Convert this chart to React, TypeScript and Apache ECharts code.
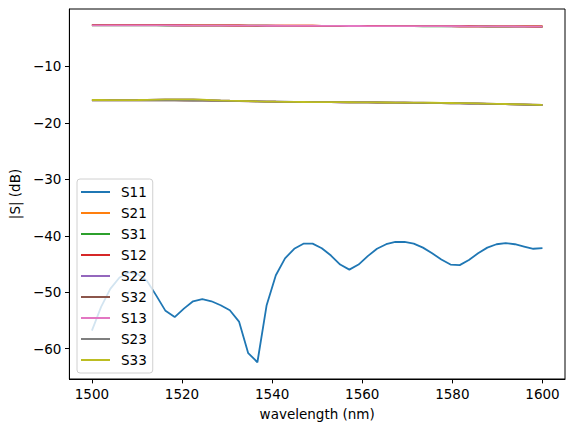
import React, { useEffect, useRef } from "react";
import * as echarts from "echarts";

const wavelengths = [
  1500, 1502.04, 1504.08, 1506.12, 1508.16, 1510.2, 1512.24, 1514.29, 1516.33, 1518.37,
  1520.41, 1522.45, 1524.49, 1526.53, 1528.57, 1530.61, 1532.65, 1534.69, 1536.73, 1538.78,
  1540.82, 1542.86, 1544.9, 1546.94, 1548.98, 1551.02, 1553.06, 1555.1, 1557.14, 1559.18,
  1561.22, 1563.27, 1565.31, 1567.35, 1569.39, 1571.43, 1573.47, 1575.51, 1577.55, 1579.59,
  1581.63, 1583.67, 1585.71, 1587.76, 1589.8, 1591.84, 1593.88, 1595.92, 1597.96, 1600,
];

const s11 = [
  -56.8, -52.6, -49.4, -47.4, -46.5, -46.8, -48.0, -50.6, -53.3, -54.4,
  -52.9, -51.6, -51.2, -51.6, -52.3, -53.2, -55.2, -60.8, -62.4, -52.3,
  -47.0, -44.0, -42.3, -41.4, -41.4, -42.2, -43.5, -45.1, -46.0, -45.1,
  -43.6, -42.3, -41.5, -41.1, -41.1, -41.4, -42.1, -43.1, -44.2, -45.1,
  -45.2, -44.3, -43.1, -42.1, -41.5, -41.3, -41.5, -41.9, -42.3, -42.2,
];

const s21 = [
  -2.66, -2.66, -2.67, -2.67, -2.68, -2.68, -2.69, -2.69, -2.7, -2.7,
  -2.71, -2.72, -2.72, -2.73, -2.74, -2.74, -2.75, -2.76, -2.76, -2.77,
  -2.78, -2.78, -2.79, -2.8, -2.8, -2.81, -2.81, -2.82, -2.83, -2.83,
  -2.84, -2.84, -2.85, -2.85, -2.86, -2.86, -2.87, -2.87, -2.88, -2.88,
  -2.89, -2.89, -2.9, -2.9, -2.91, -2.91, -2.92, -2.92, -2.93, -2.93,
];

const s31 = [
  -2.71, -2.71, -2.72, -2.72, -2.73, -2.73, -2.74, -2.74, -2.75, -2.75,
  -2.76, -2.76, -2.77, -2.77, -2.78, -2.78, -2.79, -2.79, -2.8, -2.8,
  -2.81, -2.81, -2.82, -2.82, -2.83, -2.83, -2.84, -2.84, -2.85, -2.85,
  -2.86, -2.86, -2.87, -2.87, -2.88, -2.88, -2.89, -2.89, -2.9, -2.91,
  -2.91, -2.92, -2.92, -2.93, -2.94, -2.94, -2.95, -2.96, -2.96, -2.97,
];

const s12 = [
  -2.67, -2.67, -2.67, -2.68, -2.68, -2.69, -2.69, -2.7, -2.7, -2.71,
  -2.71, -2.72, -2.73, -2.73, -2.74, -2.75, -2.75, -2.76, -2.77, -2.77,
  -2.78, -2.79, -2.79, -2.8, -2.8, -2.81, -2.82, -2.82, -2.83, -2.83,
  -2.84, -2.84, -2.85, -2.85, -2.86, -2.86, -2.87, -2.87, -2.88, -2.88,
  -2.89, -2.89, -2.9, -2.9, -2.91, -2.91, -2.92, -2.92, -2.93, -2.93,
];

const s22 = [
  -15.96, -15.96, -15.97, -15.97, -15.97, -15.96, -15.93, -15.89, -15.86, -15.84,
  -15.84, -15.86, -15.91, -15.97, -16.03, -16.08, -16.12, -16.16, -16.2, -16.23,
  -16.26, -16.28, -16.3, -16.31, -16.32, -16.33, -16.34, -16.35, -16.36, -16.37,
  -16.38, -16.39, -16.4, -16.41, -16.42, -16.43, -16.44, -16.45, -16.47, -16.49,
  -16.51, -16.53, -16.56, -16.59, -16.63, -16.67, -16.71, -16.75, -16.79, -16.83,
];

const s32 = [
  -16.01, -16.01, -16.02, -16.02, -16.03, -16.03, -16.03, -16.03, -16.03, -16.03,
  -16.04, -16.05, -16.06, -16.08, -16.1, -16.12, -16.14, -16.17, -16.2, -16.23,
  -16.25, -16.27, -16.29, -16.31, -16.32, -16.33, -16.34, -16.35, -16.36, -16.37,
  -16.38, -16.39, -16.4, -16.42, -16.44, -16.46, -16.48, -16.5, -16.52, -16.54,
  -16.56, -16.58, -16.6, -16.63, -16.66, -16.69, -16.73, -16.77, -16.81, -16.85,
];

const s13 = [
  -2.72, -2.72, -2.72, -2.73, -2.73, -2.73, -2.74, -2.74, -2.74, -2.75,
  -2.75, -2.76, -2.76, -2.77, -2.77, -2.78, -2.78, -2.79, -2.79, -2.8,
  -2.8, -2.81, -2.81, -2.82, -2.82, -2.82, -2.83, -2.83, -2.84, -2.84,
  -2.85, -2.85, -2.85, -2.86, -2.86, -2.87, -2.87, -2.88, -2.88, -2.89,
  -2.89, -2.9, -2.9, -2.91, -2.92, -2.92, -2.93, -2.94, -2.95, -2.96,
];

const s23 = [
  -16.0, -16.0, -16.01, -16.01, -16.02, -16.02, -16.02, -16.02, -16.02, -16.02,
  -16.03, -16.04, -16.05, -16.07, -16.09, -16.11, -16.13, -16.16, -16.19, -16.22,
  -16.24, -16.26, -16.28, -16.3, -16.31, -16.32, -16.33, -16.34, -16.35, -16.36,
  -16.37, -16.38, -16.39, -16.41, -16.43, -16.45, -16.47, -16.49, -16.51, -16.53,
  -16.55, -16.57, -16.59, -16.62, -16.65, -16.68, -16.72, -16.76, -16.8, -16.84,
];

const s33 = [
  -15.95, -15.95, -15.96, -15.96, -15.96, -15.95, -15.92, -15.88, -15.85, -15.83,
  -15.83, -15.85, -15.9, -15.96, -16.02, -16.07, -16.11, -16.15, -16.19, -16.22,
  -16.25, -16.27, -16.29, -16.3, -16.31, -16.32, -16.33, -16.34, -16.35, -16.36,
  -16.37, -16.38, -16.39, -16.4, -16.41, -16.42, -16.43, -16.44, -16.46, -16.48,
  -16.5, -16.52, -16.55, -16.58, -16.62, -16.66, -16.7, -16.74, -16.78, -16.82,
];

const seriesNames = ["S11", "S21", "S31", "S12", "S22", "S32", "S13", "S23", "S33"];
const seriesValues = [s11, s21, s31, s12, s22, s32, s13, s23, s33];
const seriesColors = [
  "#1f77b4", "#ff7f0e", "#2ca02c", "#d62728", "#9467bd",
  "#8c564b", "#e377c2", "#7f7f7f", "#bcbd22",
];

const xTicks = [1500, 1520, 1540, 1560, 1580, 1600];
const yTicks = [-60, -50, -40, -30, -20, -10];

const FONT = "DejaVu Sans";
const FS = 13.5;

export default function App() {
  const ref = useRef<HTMLDivElement>(null);

  useEffect(() => {
    if (!ref.current) return;
    const chart = echarts.init(ref.current, null, { renderer: "svg" });
    const fmtY = (v: number) => (v < 0 ? "\u2212" + Math.abs(v) : String(v));
    const fmtX = (v: number) => String(v);
    const option: any = {
      animation: false,
      grid: {
        left: 69,
        right: 10,
        top: 9,
        bottom: 53,
        show: true,
        borderColor: "#000",
        borderWidth: 1,
        backgroundColor: "transparent",
      },
      xAxis: {
        type: "value",
        min: 1495,
        max: 1605,
        axisLine: { onZero: false, lineStyle: { color: "#000", width: 1 } },
        axisTick: { show: true, length: 4.4, customValues: xTicks, lineStyle: { color: "#000", width: 1 } },
        axisLabel: { customValues: xTicks, color: "#000", fontSize: FS, fontFamily: FONT, margin: 8, formatter: fmtX },
        splitLine: { show: false },
        name: "wavelength (nm)",
        nameLocation: "middle",
        nameGap: 28,
        nameTextStyle: { color: "#000", fontSize: FS, fontFamily: FONT },
      },
      yAxis: {
        type: "value",
        min: -65.37,
        max: 0.17,
        axisLine: { show: true, onZero: false, lineStyle: { color: "#000", width: 1 } },
        axisTick: { show: true, length: 4.4, customValues: yTicks, lineStyle: { color: "#000", width: 1 } },
        axisLabel: { customValues: yTicks, color: "#000", fontSize: FS, fontFamily: FONT, margin: 8, formatter: fmtY },
        splitLine: { show: false },
        name: "|S| (dB)",
        nameLocation: "middle",
        nameGap: 45,
        nameTextStyle: { color: "#000", fontSize: FS, fontFamily: FONT },
      },
      legend: {
        orient: "vertical",
        left: 77,
        top: 179,
        icon: "rect",
        itemWidth: 29,
        itemHeight: 2,
        itemGap: 5,
        padding: [5, 6, 5, 4],
        backgroundColor: "rgba(255,255,255,0.8)",
        borderColor: "#d0d0d0",
        borderWidth: 1,
        borderRadius: 3,
        textStyle: { color: "#000", fontSize: FS, fontFamily: FONT, lineHeight: 16, padding: [0, 0, 0, 6] },
        data: seriesNames,
      },
      series: seriesNames.map((name, i) => ({
        name,
        type: "line",
        symbol: "none",
        showSymbol: false,
        color: seriesColors[i],
        lineStyle: { color: seriesColors[i], width: 1.8 },
        data: wavelengths.map((w, j) => [w, seriesValues[i][j]]),
      })),
    };
    chart.setOption(option);
    return () => chart.dispose();
  }, []);

  return (
    <div
      ref={ref}
      style={{ position: "fixed", left: 0, top: 0, width: 575, height: 432, background: "#fff" }}
    />
  );
}
